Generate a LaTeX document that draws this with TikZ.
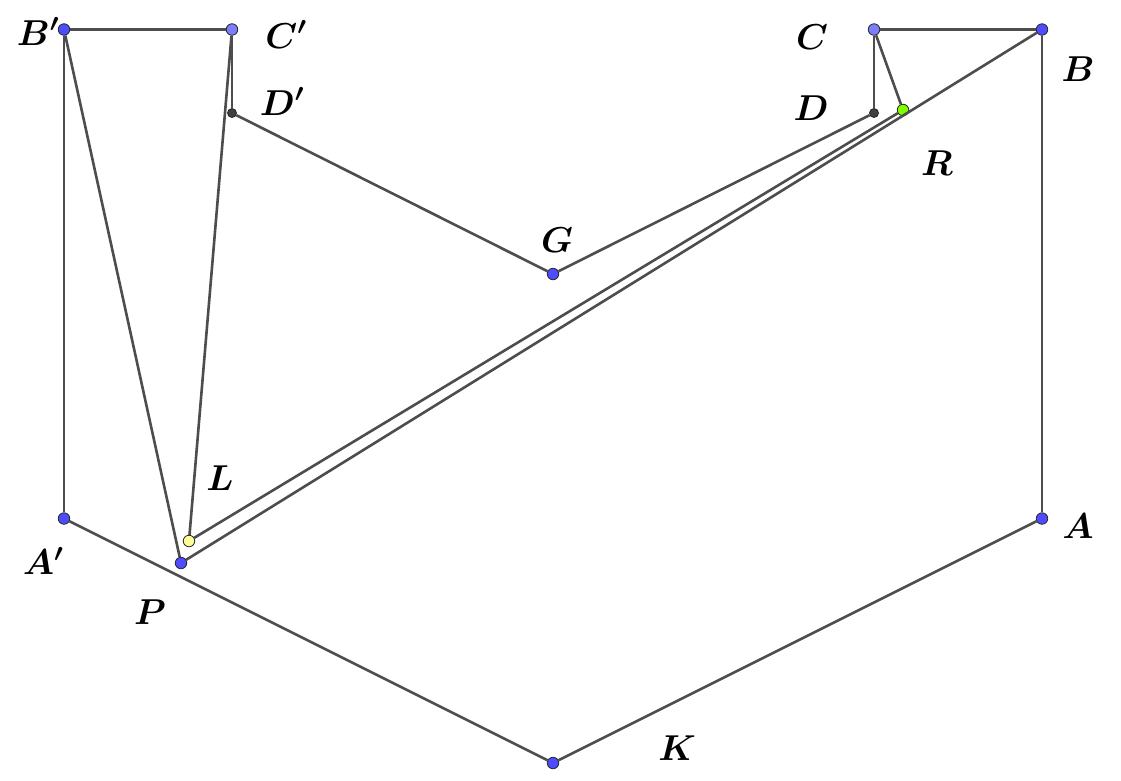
\documentclass[tikz,border=0pt]{standalone}
\usepackage{fix-cm}
\definecolor{linegray}{HTML}{4D4D4D}
\definecolor{ptblue}{HTML}{4D4DFF}
\definecolor{ptlight}{HTML}{7D7DFF}
\definecolor{ptdark}{HTML}{404040}
\definecolor{ptgreen}{HTML}{80FF00}
\definecolor{ptyellow}{HTML}{FFFF99}
\tikzset{
  pt/.style={circle,draw=black!85,line width=0.8pt,inner sep=0pt,minimum size=11.5pt},
  ptsmall/.style={pt,minimum size=9pt,fill=ptdark},
  lab/.style={inner sep=0pt,font=\fontsize{36}{40}\selectfont\boldmath},
  seg/.style={draw=linegray,line width=2.6pt}
}
\begin{document}
\begin{tikzpicture}[x=1pt,y=-1pt]
\useasboundingbox (0,0) rectangle (1121,780);
\node[pt,fill=ptblue] (Bp) at (64,29.5) {};
\node[pt,fill=ptlight] (Cp) at (232,29.5) {};
\node[ptsmall] (Dp) at (232,113) {};
\node[pt,fill=ptblue] (G) at (553,274) {};
\node[ptsmall] (D) at (874,113) {};
\node[pt,fill=ptlight] (C) at (874,29.5) {};
\node[pt,fill=ptblue] (B) at (1042,29.5) {};
\node[pt,fill=ptblue] (A) at (1042,518.5) {};
\node[pt,fill=ptblue] (K) at (553,763) {};
\node[pt,fill=ptblue] (Ap) at (64,518.5) {};
\node[pt,fill=ptblue] (P) at (181,563) {};
\node[pt,fill=ptyellow] (L) at (189,541) {};
\node[pt,fill=ptgreen] (R) at (903,110) {};
\draw[seg] (Bp) -- (Cp);
\draw[seg] (Cp) -- (Dp);
\draw[seg] (Dp) -- (G);
\draw[seg] (G) -- (D);
\draw[seg] (D) -- (C);
\draw[seg] (C) -- (B);
\draw[seg] (B) -- (A);
\draw[seg] (A) -- (K);
\draw[seg] (K) -- (Ap);
\draw[seg] (Ap) -- (Bp);
\draw[seg] (Bp) -- (P);
\draw[seg] (P) -- (B);
\draw[seg] (Cp) -- (L);
\draw[seg] (L) -- (R);
\draw[seg] (C) -- (R);
\node[lab] (tBp) at (38,31.5) {$B'$};
\node[lab] (tCp) at (286,34.5) {$C'$};
\node[lab] (tDp) at (282,101.5) {$D'$};
\node[lab] (tC) at (812,37) {$C$};
\node[lab] (tD) at (811,108) {$D$};
\node[lab] (tB) at (1078,69) {$B$};
\node[lab] (tR) at (937,163) {$R$};
\node[lab] (tG) at (557,240) {$G$};
\node[lab] (tL) at (220,478) {$L$};
\node[lab] (tA) at (1078,526) {$A$};
\node[lab] (tAp) at (43,561) {$A'$};
\node[lab] (tP) at (150,612) {$P$};
\node[lab] (tK) at (677,748) {$K$};
\end{tikzpicture}
\end{document}
